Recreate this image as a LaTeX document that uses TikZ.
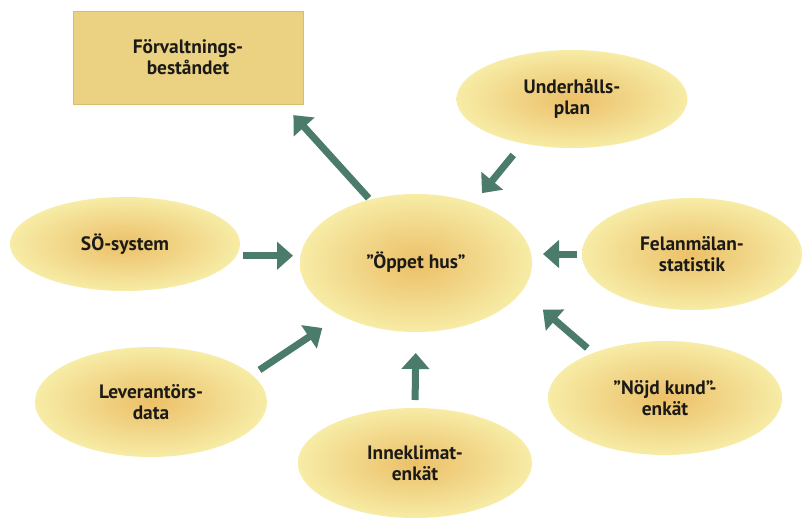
\documentclass[tikz,border=0pt]{standalone}
\usepackage{fontspec}
\setmainfont{PT Sans}
\usepackage{xcolor}
\usepackage{tikz}
\usetikzlibrary{arrows.meta,shapes.geometric,calc}
\definecolor{arrowgreen}{HTML}{4A7B6B}
\definecolor{eggcore}{HTML}{ECC068}
\definecolor{eggmid}{HTML}{F1D688}
\definecolor{eggrim}{HTML}{F7ECA6}
\definecolor{boxfill}{HTML}{EBD283}
\definecolor{boxedge}{HTML}{D9BD6A}
\definecolor{inkdark}{HTML}{1C1A17}
\pgfdeclareradialshading{eggshade}{\pgfpoint{0bp}{0bp}}{color(0bp)=(eggcore); color(13bp)=(eggmid); color(25bp)=(eggrim); color(50bp)=(eggrim)}
\tikzset{
  egg/.style   ={ellipse,shade,shading=eggshade,inner sep=0pt,outer sep=0pt,
                 align=center,text=inkdark,font=\fontsize{13.8}{15}\selectfont\bfseries},
  plate/.style ={rectangle,draw=boxedge,line width=0.4pt,fill=boxfill,inner sep=0pt,
                 outer sep=0pt,align=center,text=inkdark,font=\fontsize{13.8}{15}\selectfont\bfseries},
  flow/.style  ={-{Triangle[length=4mm,width=6.8mm]},line width=1.75mm,draw=arrowgreen}
}
\begin{document}
\begin{tikzpicture}[x=0.25mm,y=-0.25mm]
        \path[use as bounding box,fill=white] (0,0) rectangle (805,518);
        \node[plate,minimum width=57.5mm,minimum height=23.25mm] (forv) at (188,57.5) {Förvaltnings-\\beståndet};
        \node[egg,minimum width=58mm,minimum height=34.5mm] (hub) at (416,263) {\raisebox{1.5mm}{”Öppet hus”}};
        \node[egg,minimum width=57.75mm,minimum height=24.5mm] (underh) at (572,99) {Underhålls-\\plan};
        \node[egg,minimum width=57.5mm,minimum height=23.5mm] (sos) at (125,244) {SÖ-system};
        \node[egg,minimum width=55mm,minimum height=28mm] (felan) at (692,254) {Felanmälan-\\statistik};
        \node[egg,minimum width=58mm,minimum height=27.5mm] (lever) at (151,402) {Leverantörs-\\data};
        \node[egg,minimum width=58.5mm,minimum height=28.5mm] (nojd) at (665,398) {”Nöjd kund”-\\enkät};
        \node[egg,minimum width=58.5mm,minimum height=27.5mm] (inne) at (415,463) {Inneklimat-\\enkät};
        \draw[flow,shorten <=0.5mm,shorten >=3.75mm] (hub.126) -- (forv.-26);
        \draw[flow,shorten <=3.75mm,shorten >=3.25mm] (underh.222) -- (hub.46);
        \draw[flow,shorten <=1.7mm,shorten >=1.75mm] (sos.-6) -- (sos.-6 -| hub.west);
        \draw[flow,shorten <=1.25mm,shorten >=2.75mm] (felan.west) -- (felan.west -| hub.east);
        \draw[flow,shorten <=1.9mm,shorten >=7mm] (nojd.148) -- (hub.-15);
        \draw[flow,shorten <=2mm,shorten >=5.25mm] (inne.north) -- (hub.south);
        \draw[flow,shorten <=2.25mm,shorten >=5.6mm] (lever.15) -- (hub.215);
      \end{tikzpicture}
\end{document}
